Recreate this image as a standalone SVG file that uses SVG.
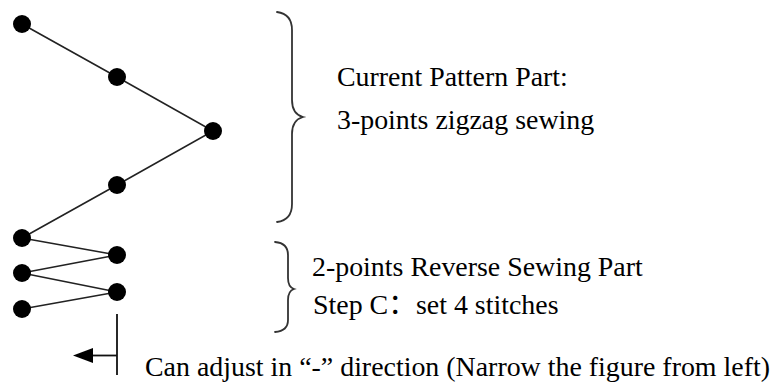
<svg xmlns="http://www.w3.org/2000/svg" width="774" height="385" viewBox="0 0 774 385">
<style>
.stitch{fill:none;stroke:#222;stroke-width:1.6}
.dot{fill:#000}
.brace{fill:none;stroke:#333;stroke-width:1.8;stroke-linecap:round}
.lbl{font-family:"Liberation Serif","Noto Sans CJK SC",serif;font-size:27.9px;fill:#000}
.ln{stroke:#111;stroke-width:1.8;fill:none}
</style>
<g id="connectors">
<polyline class="stitch" points="22,24 117,77 213,131 117,185 22,238"/>
<polyline class="stitch" points="22,238 117,255 22,273 117,292 22,309"/>
<line class="ln" x1="117" y1="314" x2="117" y2="375"/>
<line class="ln" x1="117" y1="355.5" x2="93" y2="355.5"/>
<path d="M73,355.5 L93,348 L93,363 Z" fill="#000"/>
</g>
<g id="stitch-points">
<circle class="dot" cx="22" cy="24" r="9"/>
<circle class="dot" cx="117" cy="77" r="9"/>
<circle class="dot" cx="213" cy="131" r="9"/>
<circle class="dot" cx="117" cy="185" r="9"/>
<circle class="dot" cx="22" cy="238" r="9"/>
<circle class="dot" cx="117" cy="255" r="9"/>
<circle class="dot" cx="22" cy="273" r="9"/>
<circle class="dot" cx="117" cy="292" r="9"/>
<circle class="dot" cx="22" cy="309" r="9"/>
</g>
<g id="current-pattern">
<path class="brace" d="M277,12 Q292,14 292,30 L292,100 Q292,114 303,117 Q292,120 292,134 L292,204 Q292,220 277,222"/>
<text class="lbl" x="337" y="86">Current Pattern Part:</text>
<text class="lbl" x="337" y="129">3-points zigzag sewing</text>
</g>
<g id="reverse-part">
<path class="brace" d="M275,242 Q288,243 288,255 L288,278 Q288,287 294,289 Q288,291 288,300 L288,320 Q288,331 275,332"/>
<text class="lbl" x="312" y="276">2-points Reverse Sewing Part</text>
<text class="lbl" x="313" y="314">Step C：<tspan x="416">set 4 stitches</tspan></text>
</g>
<g id="adjust-note">
<text class="lbl" x="145" y="376">Can adjust in “-” direction (Narrow the figure from left)</text>
</g>
</svg>
